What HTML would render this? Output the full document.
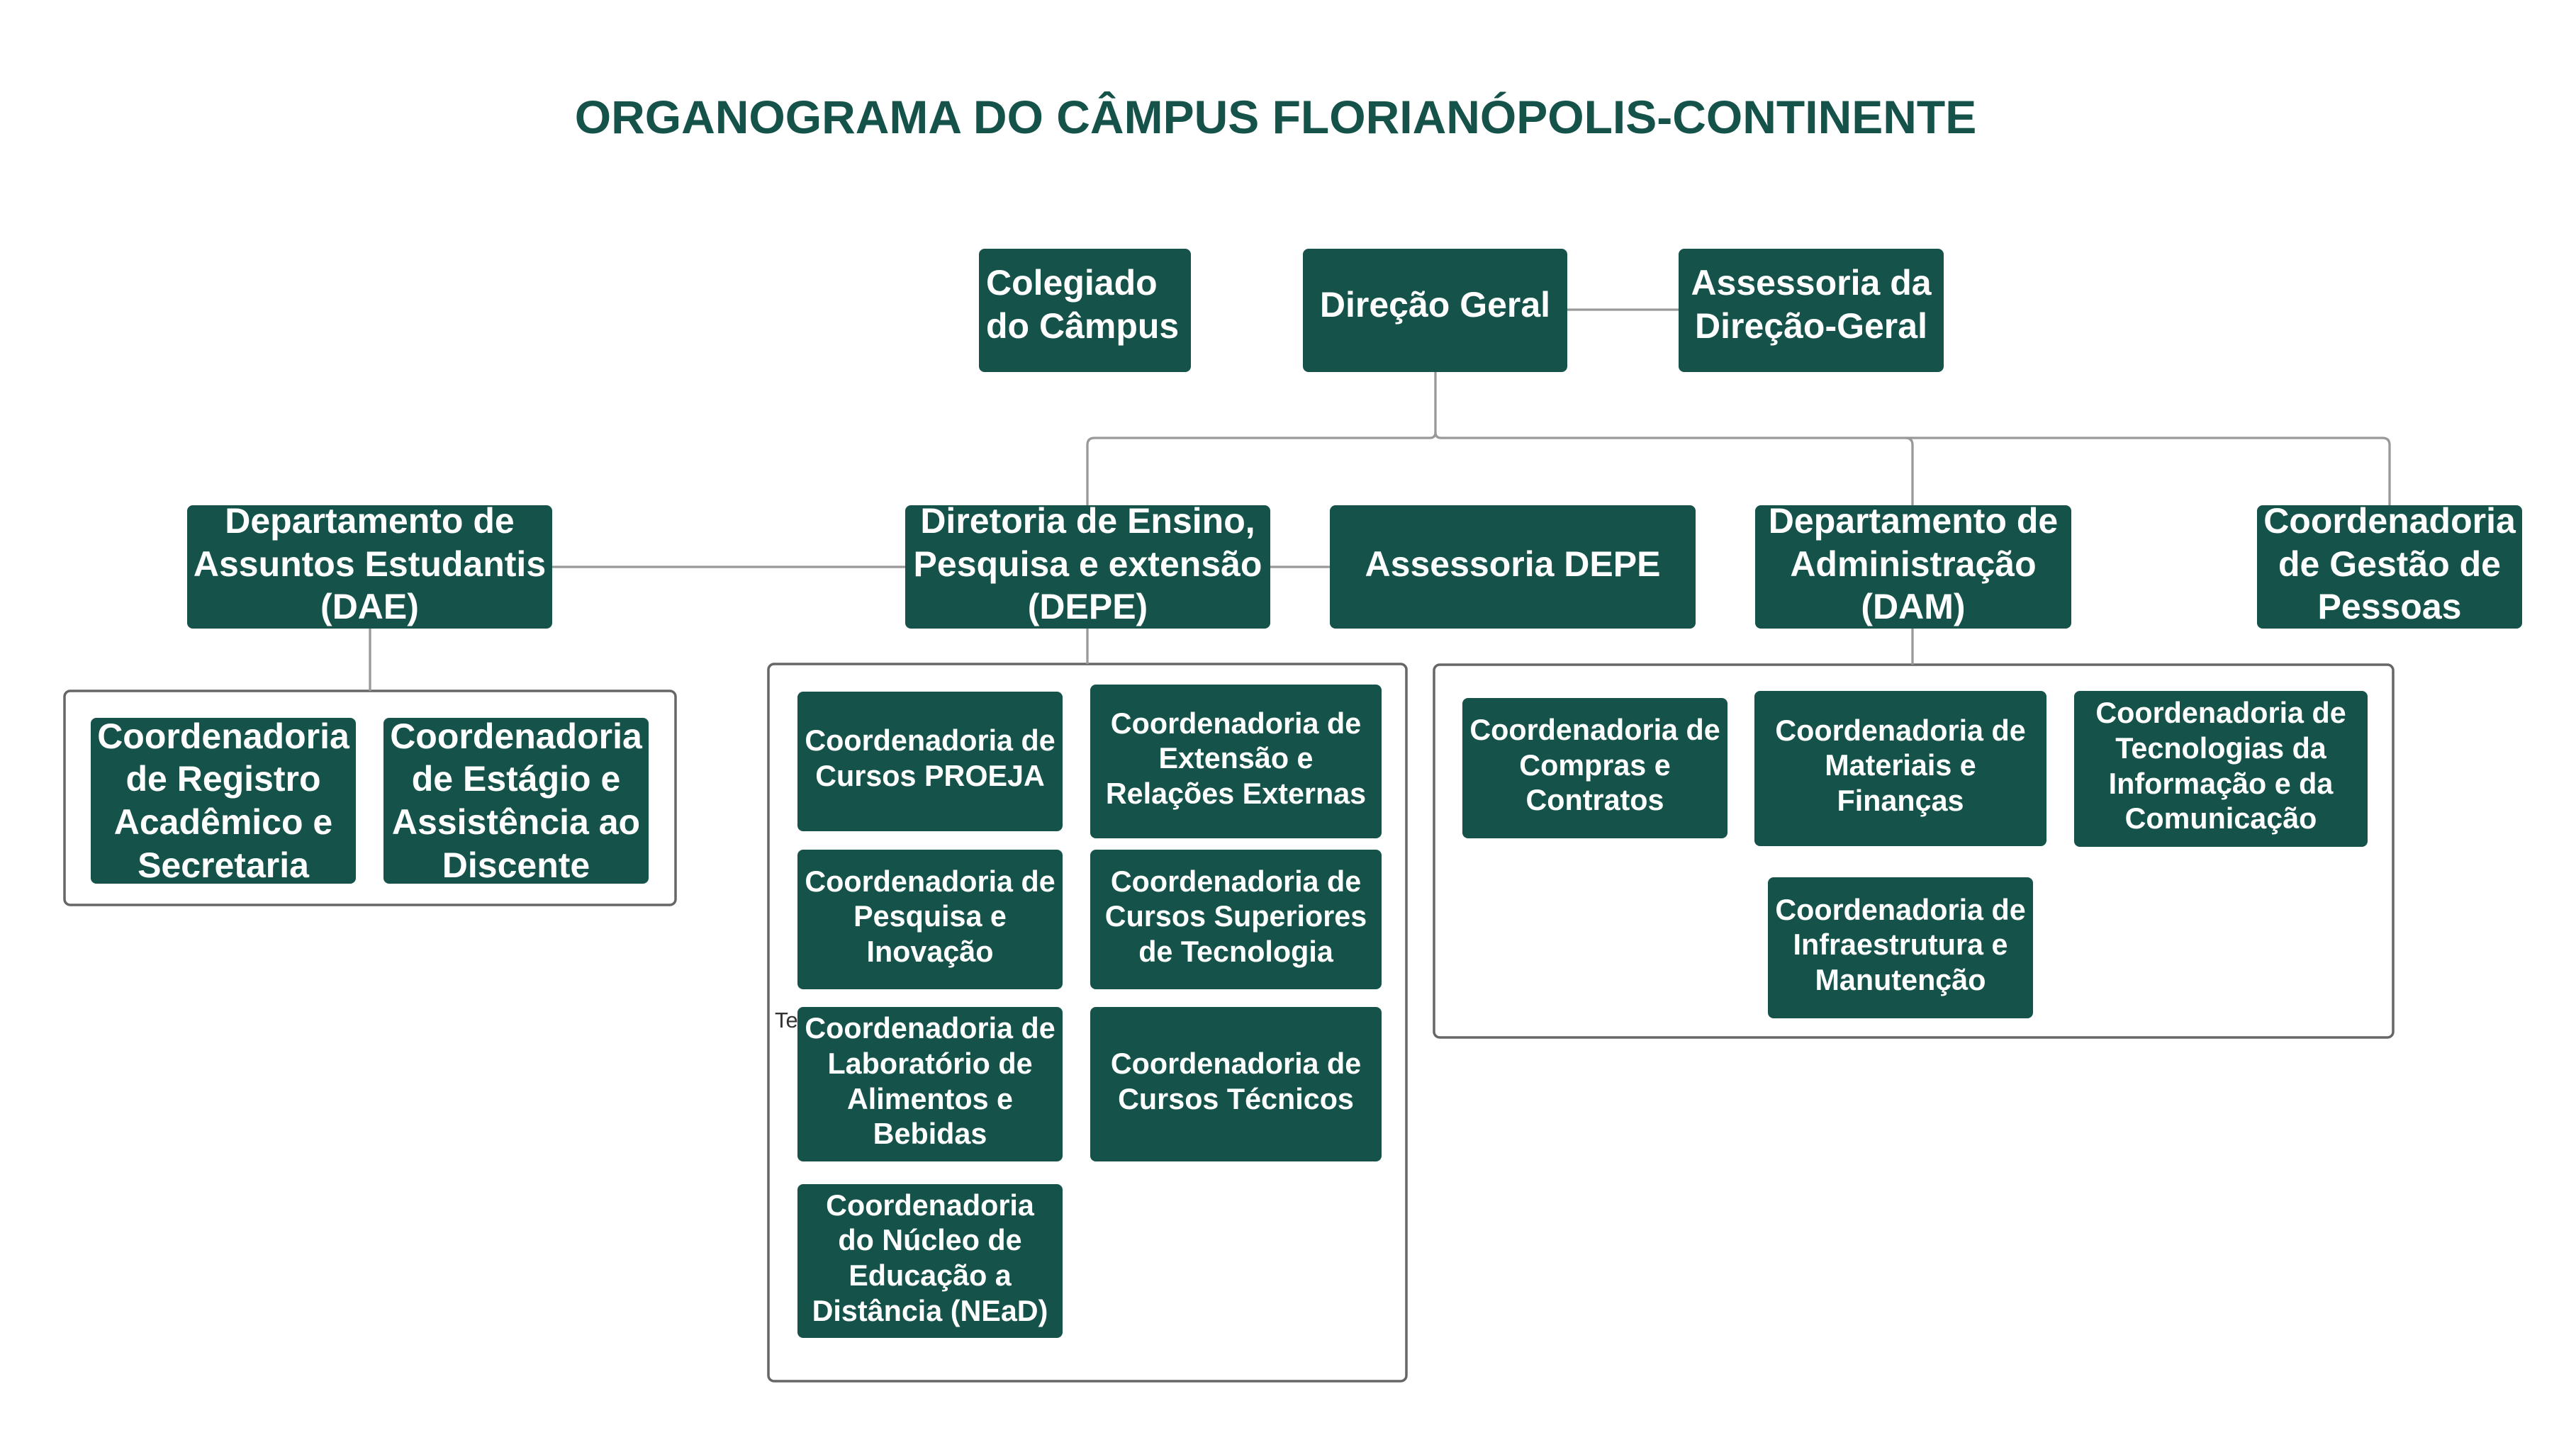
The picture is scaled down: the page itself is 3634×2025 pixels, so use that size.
<!DOCTYPE html>
<html>
<head>
<meta charset="utf-8">
<style>
html,body{margin:0;padding:0;background:#fff;}
body{width:3634px;height:2025px;position:relative;overflow:hidden;font-family:"Liberation Sans",Arial,sans-serif;}
svg{position:absolute;left:0;top:0;}
.n{position:absolute;background:#14524a;border-radius:8px;color:#fff;font-weight:bold;display:flex;align-items:center;justify-content:center;text-align:center;white-space:nowrap;box-sizing:border-box;}
.t{font-size:50px;line-height:60.6px;padding-bottom:16px;}
.r{font-size:50px;line-height:60.6px;padding-bottom:8px;}
.d{font-size:50px;line-height:60.6px;}
.g{font-size:41.3px;line-height:49.6px;padding-bottom:7px;}
.title{position:absolute;left:0;width:3599px;top:126px;text-align:center;font-size:66px;line-height:79px;font-weight:bold;color:#14524a;white-space:nowrap;}
.te{position:absolute;left:1093px;top:1421px;font-size:31px;line-height:37px;color:#333;}
</style>
</head>
<body>
<div class="title">ORGANOGRAMA DO CÂMPUS FLORIANÓPOLIS-CONTINENTE</div>

<svg width="3634" height="2025" viewBox="0 0 3634 2025">
  <g fill="none" stroke="#666" stroke-width="3.5">
    <rect x="91" y="975" width="862" height="302" rx="8"/>
    <rect x="1084" y="937" width="900" height="1012" rx="8"/>
    <rect x="2023" y="938" width="1353" height="526" rx="8"/>
  </g>
  <g fill="none" stroke="#999" stroke-width="3.3">
    <path d="M2211 437 H2368"/>
    <path d="M2025 525 V610 Q2025 618 2017 618 H1544 Q1534 618 1534 628 V713"/>
    <path d="M2025 610 Q2025 618 2033 618 H3361 Q3371 618 3371 628 V713"/>
    <path d="M2688 618 Q2698 618 2698 628 V713"/>
    <path d="M779 800 H1277"/>
    <path d="M1792 800 H1876"/>
    <path d="M522 887 V975"/>
    <path d="M1534 887 V937"/>
    <path d="M2698 887 V938"/>
  </g>
</svg>

<div class="te">Texto</div>

<!-- top row -->
<div class="n t" style="left:1381px;top:351px;width:299px;height:174px;justify-content:flex-start;text-align:left;padding-left:10px;">Colegiado<br>do Câmpus</div>
<div class="n t" style="left:1838px;top:351px;width:373px;height:174px;">Direção Geral</div>
<div class="n t" style="left:2368px;top:351px;width:374px;height:174px;">Assessoria da<br>Direção-Geral</div>

<!-- second row -->
<div class="n r" style="left:264px;top:713px;width:515px;height:174px;">Departamento de<br>Assuntos Estudantis<br>(DAE)</div>
<div class="n r" style="left:1277px;top:713px;width:515px;height:174px;">Diretoria de Ensino,<br>Pesquisa e extensão<br>(DEPE)</div>
<div class="n r" style="left:1876px;top:713px;width:516px;height:174px;">Assessoria DEPE</div>
<div class="n r" style="left:2476px;top:713px;width:446px;height:174px;">Departamento de<br>Administração<br>(DAM)</div>
<div class="n r" style="left:3184px;top:713px;width:374px;height:174px;">Coordenadoria<br>de Gestão de<br>Pessoas</div>

<!-- DAE group -->
<div class="n d" style="left:128px;top:1013px;width:374px;height:234px;">Coordenadoria<br>de Registro<br>Acadêmico e<br>Secretaria</div>
<div class="n d" style="left:541px;top:1013px;width:374px;height:234px;">Coordenadoria<br>de Estágio e<br>Assistência ao<br>Discente</div>

<!-- DEPE group -->
<div class="n g" style="left:1125px;top:976px;width:374px;height:197px;">Coordenadoria de<br>Cursos PROEJA</div>
<div class="n g" style="left:1538px;top:966px;width:411px;height:217px;">Coordenadoria de<br>Extensão e<br>Relações Externas</div>
<div class="n g" style="left:1125px;top:1199px;width:374px;height:197px;">Coordenadoria de<br>Pesquisa e<br>Inovação</div>
<div class="n g" style="left:1538px;top:1199px;width:411px;height:197px;">Coordenadoria de<br>Cursos Superiores<br>de Tecnologia</div>
<div class="n g" style="left:1125px;top:1421px;width:374px;height:218px;">Coordenadoria de<br>Laboratório de<br>Alimentos e<br>Bebidas</div>
<div class="n g" style="left:1538px;top:1421px;width:411px;height:218px;">Coordenadoria de<br>Cursos Técnicos</div>
<div class="n g" style="left:1125px;top:1671px;width:374px;height:217px;">Coordenadoria<br>do Núcleo de<br>Educação a<br>Distância (NEaD)</div>

<!-- DAM group -->
<div class="n g" style="left:2063px;top:985px;width:374px;height:198px;">Coordenadoria de<br>Compras e<br>Contratos</div>
<div class="n g" style="left:2475px;top:975px;width:412px;height:219px;">Coordenadoria de<br>Materiais e<br>Finanças</div>
<div class="n g" style="left:2926px;top:975px;width:414px;height:220px;">Coordenadoria de<br>Tecnologias da<br>Informação e da<br>Comunicação</div>
<div class="n g" style="left:2494px;top:1238px;width:374px;height:199px;">Coordenadoria de<br>Infraestrutura e<br>Manutenção</div>
</body>
</html>
